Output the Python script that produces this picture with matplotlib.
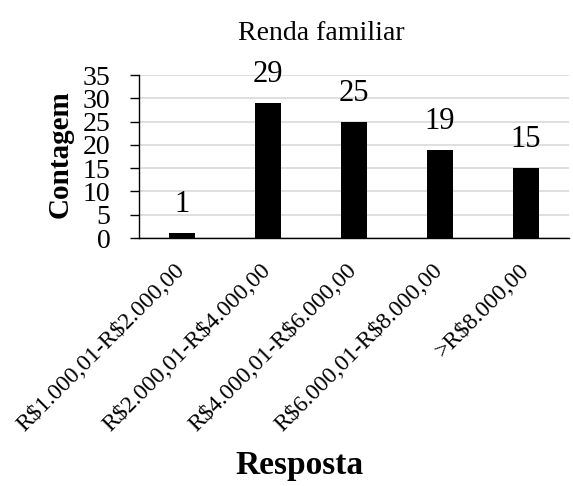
import matplotlib
matplotlib.use("Agg")
import matplotlib.pyplot as plt

categories = ["R$1.000,01-R$2.000,00", "R$2.000,01-R$4.000,00",
              "R$4.000,01-R$6.000,00", "R$6.000,01-R$8.000,00", ">R$8.000,00"]
counts = [1, 29, 25, 19, 15]
yticks = [0, 5, 10, 15, 20, 25, 30, 35]

plt.rcParams["font.family"] = ["Liberation Serif", "DejaVu Serif"]
plt.rcParams["text.parse_math"] = False

fig = plt.figure(figsize=(5.73, 4.86), dpi=100)
ax = fig.add_axes([139 / 573, 1 - 238 / 486, 430 / 573, 163 / 486])

x = list(range(len(categories)))
ax.bar(x, counts, width=0.31, color="black", zorder=3)
for xi, c in zip(x, counts):
    ax.annotate(str(c), (xi, c), xytext=(0, 10), textcoords="offset points",
                ha="center", va="bottom", fontsize=22)

ax.set_xlim(-0.5, len(categories) - 0.5)
ax.set_ylim(0, 35)
ax.set_yticks(yticks)
ax.set_yticklabels([str(t) for t in yticks], fontsize=20)
ax.yaxis.grid(True, color="#d9d9d9", linewidth=1.2, zorder=0)
ax.set_axisbelow(True)
ax.tick_params(axis="y", length=6.5, width=1, pad=14)
ax.tick_params(axis="x", length=0, pad=21)
ax.set_xticks(x)
ax.set_xticklabels(categories, rotation=45, ha="right", va="center",
                   rotation_mode="anchor", fontsize=17)

for s in ("top", "right"):
    ax.spines[s].set_visible(False)
ax.spines["left"].set_linewidth(1)
ax.spines["bottom"].set_linewidth(1)

ax.set_ylabel("Contagem", fontsize=21, fontweight="bold")
ax.yaxis.set_label_coords(-0.153, 0.515)
fig.text(300 / 573, 1 - 465 / 486, "Resposta", fontsize=24, fontweight="bold",
         ha="center", va="center")
fig.text(321 / 573, 1 - 33 / 486, "Renda familiar", fontsize=20,
         ha="center", va="center")

fig.savefig("out.png", dpi=100)
